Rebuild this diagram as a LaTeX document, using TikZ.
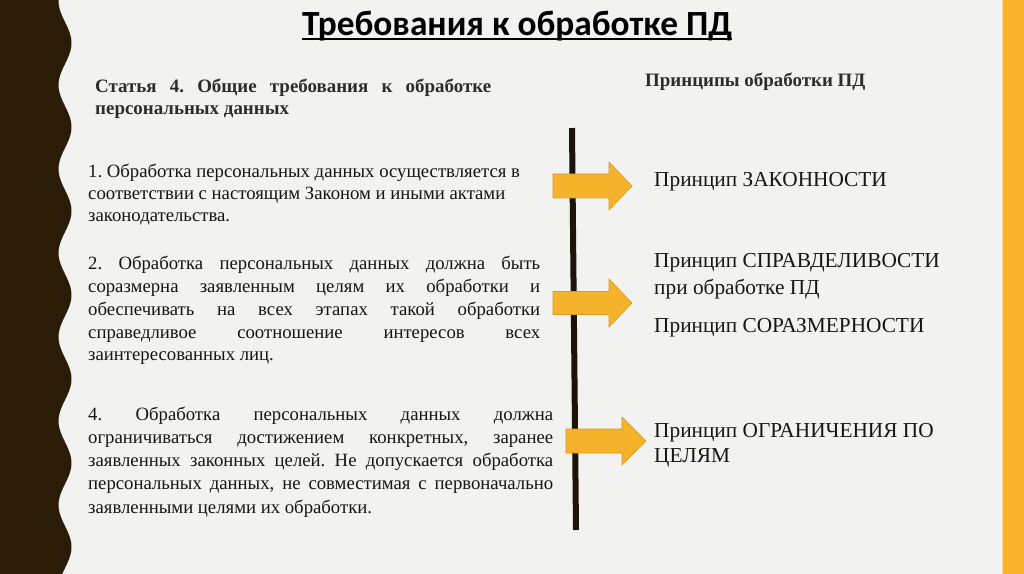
\documentclass[tikz,border=0pt]{standalone}
\usepackage{fontspec}
\setmainfont{Liberation Serif}
\newfontfamily\titlefont{Carlito}
\frenchspacing
\definecolor{bg}{HTML}{F2F2F0}
\definecolor{band}{HTML}{2B1C07}
\definecolor{strip}{HTML}{F8B32A}
\definecolor{arrowfill}{HTML}{F5B22B}
\definecolor{arrowline}{HTML}{D99A1E}
\definecolor{txt}{HTML}{151515}
\definecolor{axis}{HTML}{1C1309}
\tikzset{
  arrowshape/.style={fill=arrowfill, draw=arrowline, line width=0.6pt, line join=miter},
  para/.style={inner sep=0pt, anchor=base west, text=txt, font=\fontsize{18.8}{22.7}\selectfont},
  princ/.style={inner sep=0pt, anchor=base west, text=txt, font=\fontsize{21.4}{27}\selectfont},
  headb/.style={inner sep=0pt, anchor=base west, text=txt!90!white, font=\bfseries\fontsize{19}{22}\selectfont},
}
\newcommand\blockarrow[6]{%
  \filldraw[arrowshape] (#1,#4-#5) -- (#2,#4-#5) -- (#2,#4-#6) -- (#3,#4) -- (#2,#4+#6) -- (#2,#4+#5) -- (#1,#4+#5) -- cycle;}
\begin{document}
\begin{tikzpicture}[x=1bp,y=-1bp]
\useasboundingbox (0,0) rectangle (1024,574);
\fill[bg] (0,0) rectangle (1024,574);
% dark wavy band
\fill[band] (0,0) -- plot[domain=0:574, samples=240, variable=\t] ({65+6.5*cos((\t-43)*4.285714)},{\t}) -- (0,574) -- cycle;
% orange strip
\fill[strip] (1002,0) rectangle (1024,574);
\draw[strip!55!white, line width=0.8pt] (1002.4,0) -- (1002.4,574);
% title
\node[inner sep=0pt, anchor=base west, text=black] (title) at (302,36) {\titlefont\bfseries\fontsize{35.5}{40}\selectfont Требования к обработке ПД};
\draw[line width=2pt] ([yshift=-3.5pt]title.base west) -- ([yshift=-3.5pt]title.base east);
% headings
\node[headb] (art) at (95,93) {\vtop{\baselineskip=22bp
  \hbox to 396bp{Статья 4. Общие требования к обработке}
  \hbox{персональных данных}}};
\node[headb] (ph) at (645,87) {Принципы обработки ПД};
% axis
\coordinate (axtop) at (572,128);
\coordinate (axbot) at (576,530);
\draw[axis, line width=6bp] (axtop) -- (axbot);
% arrows
\blockarrow{553}{609}{632}{186}{12}{24}
\blockarrow{553}{609}{632}{303}{11.5}{24}
\blockarrow{566}{622}{646}{441}{12}{24}
% paragraphs
\node[para] (p1) at (88,178) {\vtop{\baselineskip=22bp
  \hbox{1. Обработка персональных данных осуществляется в}
  \hbox{соответствии с настоящим Законом и иными актами}
  \hbox{законодательства.}}};
\node[para] (p2) at (88,270) {\vtop{\baselineskip=22.7bp
  \hbox to 452bp{2. Обработка персональных данных должна быть}
  \hbox to 452bp{соразмерна заявленным целям их обработки и}
  \hbox to 452bp{обеспечивать на всех этапах такой обработки}
  \hbox to 452bp{справедливое соотношение интересов всех}
  \hbox{заинтересованных лиц.}}};
\node[para] (p4) at (88,420) {\vtop{\baselineskip=23.3bp
  \hbox to 465bp{4. Обработка персональных данных должна}
  \hbox to 465bp{ограничиваться достижением конкретных, заранее}
  \hbox to 465bp{заявленных законных целей. Не допускается обработка}
  \hbox to 465bp{персональных данных, не совместимая с первоначально}
  \hbox{заявленными целями их обработки.}}};
% principles
\node[princ] (z1) at (654,187) {Принцип ЗАКОННОСТИ};
\node[princ] (z2) at (654,268) {\vtop{\baselineskip=27bp
  \hbox{Принцип СПРАВДЕЛИВОСТИ}\hbox{при обработке ПД}}};
\node[princ] (z3) at (654,332) {Принцип СОРАЗМЕРНОСТИ};
\node[princ] (z4) at (654,437) {\vtop{\baselineskip=25bp
  \hbox{Принцип ОГРАНИЧЕНИЯ ПО}\hbox{ЦЕЛЯМ}}};
\end{tikzpicture}
\end{document}
